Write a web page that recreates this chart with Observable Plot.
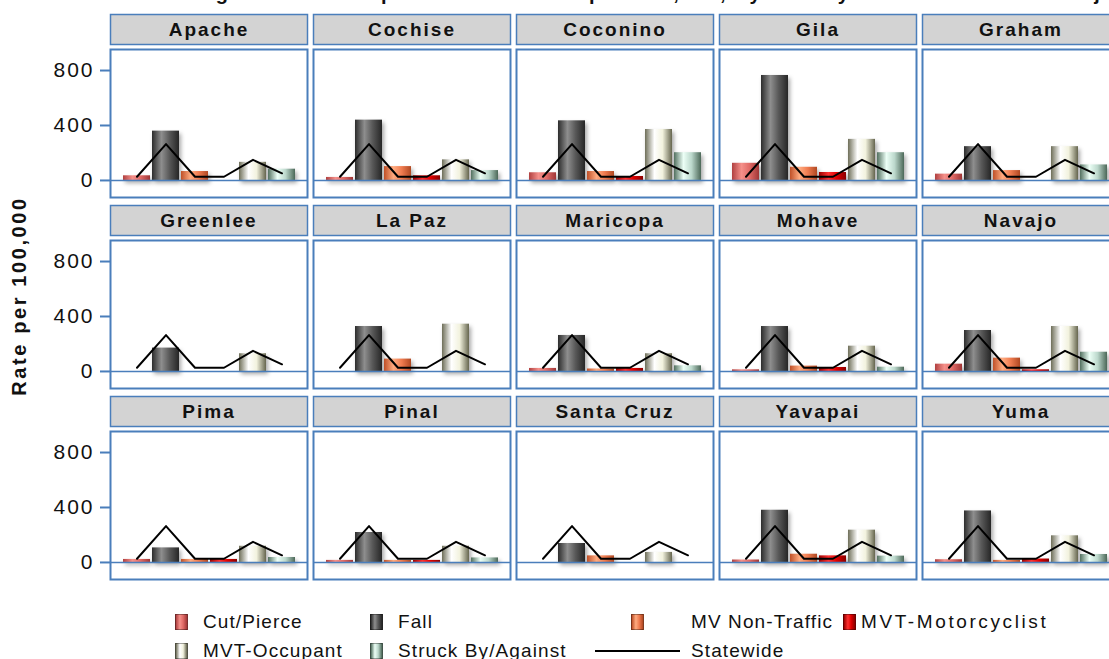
<!DOCTYPE html>
<html><head><meta charset="utf-8">
<script src="https://cdn.jsdelivr.net/npm/d3@7"></script>
<script src="https://cdn.jsdelivr.net/npm/@observablehq/plot@0.6"></script>
<style>
html,body{margin:0;padding:0;background:#fff;overflow:hidden;width:1109px;height:659px;}
body{position:relative;font-family:"Liberation Sans",Arial,sans-serif;color:#111;}
#title{position:absolute;left:0;width:1290px;text-align:center;top:-17px;font-size:20px;font-weight:bold;letter-spacing:2px;line-height:20px;white-space:nowrap;}
#ytitle{position:absolute;left:19px;top:296px;transform:translate(-50%,-50%) rotate(-90deg);font-weight:bold;font-size:20px;letter-spacing:2.6px;white-space:nowrap;}
#chart{position:absolute;left:0;top:0;width:1120px;}
#chart svg{max-width:none !important;}
#chart g[aria-label="bar"] rect{filter:drop-shadow(2px 3px 2px rgba(0,0,0,.35));}
#legend{position:absolute;left:0;top:607px;font-size:19px;letter-spacing:1.1px;}
.lrow{display:flex;align-items:center;height:29px;padding-left:175px;}
.item{display:flex;align-items:center;white-space:nowrap;}
.sw{display:inline-block;width:13px;height:16px;border:1px solid rgba(0,0,0,.35);box-sizing:border-box;}
.sym{display:flex;justify-content:center;align-items:center;}
.ln{display:inline-block;width:85px;height:2px;background:#000;}
</style>
</head><body>
<div id="title">Average Annual Hospitalization Rates per 100,000, by County and Mechanism of Injury</div>
<div id="ytitle">Rate per 100,000</div>
<div id="chart"></div>
<div id="legend"></div>
<svg width="0" height="0" style="position:absolute">
<defs id="grads"></defs>
</svg>
<script>
// ---- data ----
const counties = ["Apache","Cochise","Coconino","Gila","Graham","Greenlee","La Paz","Maricopa","Mohave","Navajo","Pima","Pinal","Santa Cruz","Yavapai","Yuma"];
const mechanisms = ["Cut/Pierce","Fall","MV Non-Traffic","MVT-Motorcyclist","MVT-Occupant","Struck By/Against"];
const cutPierce       = [34, 22, 56, 125, 46, 0, 0, 22, 12, 53, 22, 15, 0, 18, 20];
const fall            = [359, 439, 434, 764, 246, 170, 327, 262, 327, 298, 106, 218, 138, 380, 375];
const mvNonTraffic    = [65, 101, 65, 96, 72, 0, 90, 18, 39, 97, 22, 15, 48, 60, 15];
const mvtMotorcyclist = [0, 34, 29, 58, 0, 0, 0, 22, 29, 12, 22, 15, 0, 48, 25];
const mvtOccupant     = [132, 150, 371, 299, 246, 129, 344, 129, 184, 327, 118, 118, 73, 235, 194];
const struckBy        = [82, 72, 202, 202, 113, 0, 0, 41, 31, 140, 36, 33, 0, 46, 58];
const statewide       = [27, 265, 27, 27, 150, 52];
const yTicks = [0, 400, 800];
const series = [cutPierce, fall, mvNonTraffic, mvtMotorcyclist, mvtOccupant, struckBy];

// ---- styles ----
const blue = "#4a7ebb";
const gradStops = [
  ["#b04040","#f5908a","#e06a66","#a03636"],
  ["#2c2c2c","#8e8e8e","#585858","#262626"],
  ["#bf5028","#ffab80","#f07c50","#b04822"],
  ["#9a0000","#ff3030","#e00000","#8a0000"],
  ["#6e6e58","#ffffff","#f2f2de","#66664f"],
  ["#52705f","#ecfff6","#bcd8cc","#4c6858"]
];
const gradIds = mechanisms.map((m,j)=>"grad"+j);
const defs = document.getElementById("grads");
gradStops.forEach((st,j)=>{
  const g = document.createElementNS("http://www.w3.org/2000/svg","linearGradient");
  g.setAttribute("id", gradIds[j]); g.setAttribute("x1","0"); g.setAttribute("x2","1"); g.setAttribute("y1","0"); g.setAttribute("y2","0");
  [0,0.35,0.65,1].forEach((o,k)=>{
    const s = document.createElementNS("http://www.w3.org/2000/svg","stop");
    s.setAttribute("offset", o); s.setAttribute("stop-color", st[k]); g.appendChild(s);
  });
  defs.appendChild(g);
});

const rows = [];
counties.forEach((c,i)=>mechanisms.forEach((m,j)=>{
  const v = series[j][i];
  if (v > 0) rows.push({county:c, col:i%5, row:Math.floor(i/5), mech:m, value:v});
}));
const panels = counties.map((c,i)=>({county:c, col:i%5, row:Math.floor(i/5)}));
const state = mechanisms.map((m,j)=>({mech:m, value:statewide[j]}));

const chart = Plot.plot({
  width: 1120, height: 600,
  marginLeft: 110, marginRight: 1, marginTop: 49, marginBottom: 21,
  style: {fontFamily: "Liberation Sans, Arial, sans-serif", fontSize: "20px", color: "#111", background: "transparent", maxWidth: "none"},
  fx: {domain: [0,1,2,3,4], paddingInner: 6/203, paddingOuter: 0, round: false, axis: null},
  fy: {domain: [0,1,2], paddingInner: 43/191, paddingOuter: 0, round: false, axis: null},
  x: {domain: mechanisms, paddingInner: 0.07, paddingOuter: 0.35, axis: null},
  y: {domain: [-124, 953]},
  color: {domain: mechanisms, range: gradIds.map(id=>`url(#${id})`)},
  marks: [
    Plot.frame({fill: "#d3d3d3", stroke: blue, strokeWidth: 1.5, insetTop: -35, insetBottom: 153}),
    Plot.text(panels, {fx: "col", fy: "row", text: "county", frameAnchor: "top", dy: -20, lineAnchor: "middle", fontWeight: "bold", fontSize: 19, fill: "#111"}),
    Plot.frame({stroke: blue, strokeWidth: 2, fill: "white"}),
    Plot.barY(rows, {fx: "col", fy: "row", x: "mech", y: "value", fill: "mech"}),
    Plot.ruleY([0], {stroke: blue, strokeWidth: 1.6}),
    Plot.line(state, {x: "mech", y: "value", stroke: "#000", strokeWidth: 2}),
    Plot.axisY(yTicks, {tickSize: 10, tickPadding: 6, fontSize: 21, stroke: blue, strokeWidth: 2, fill: "#111", label: null})
  ]
});
chart.style.letterSpacing = "2px";
chart.style.maxWidth = "none";
document.getElementById("chart").appendChild(chart);

// ---- legend ----
const legend = document.getElementById("legend");
const layout = [
  [[0,195,"sw"],[1,225,"sw"],[2,248,"box"],[3,0,"sw"]],
  [[4,195,"sw"],[5,225,"sw"],["Statewide",0,"line"]]
];
layout.forEach(r=>{
  const row = document.createElement("div"); row.className="lrow";
  r.forEach(([k,w,kind])=>{
    const it = document.createElement("div"); it.className="item";
    if (w) it.style.width = w+"px";
    let label;
    if (kind==="line") {
      const b = document.createElement("span"); b.className="sym"; b.style.width="85px";
      const l = document.createElement("span"); l.className="ln"; b.appendChild(l); it.appendChild(b);
      label = k;
    } else {
      const sw = document.createElement("span"); sw.className="sw";
      const st = gradStops[k];
      sw.style.background = `linear-gradient(to right, ${st[0]} 0%, ${st[1]} 35%, ${st[2]} 65%, ${st[3]} 100%)`;
      if (kind==="box") { const b=document.createElement("span"); b.className="sym"; b.style.width="85px"; b.appendChild(sw); it.appendChild(b); }
      else it.appendChild(sw);
      label = mechanisms[k];
    }
    const t = document.createElement("span"); t.textContent = label;
    t.style.marginLeft = kind==="sw" ? (k===3?"5px":"15px") : "11px";
    if (k===3) t.style.letterSpacing = "2.6px";
    it.appendChild(t); row.appendChild(it);
  });
  legend.appendChild(row);
});
</script>
</body></html>
